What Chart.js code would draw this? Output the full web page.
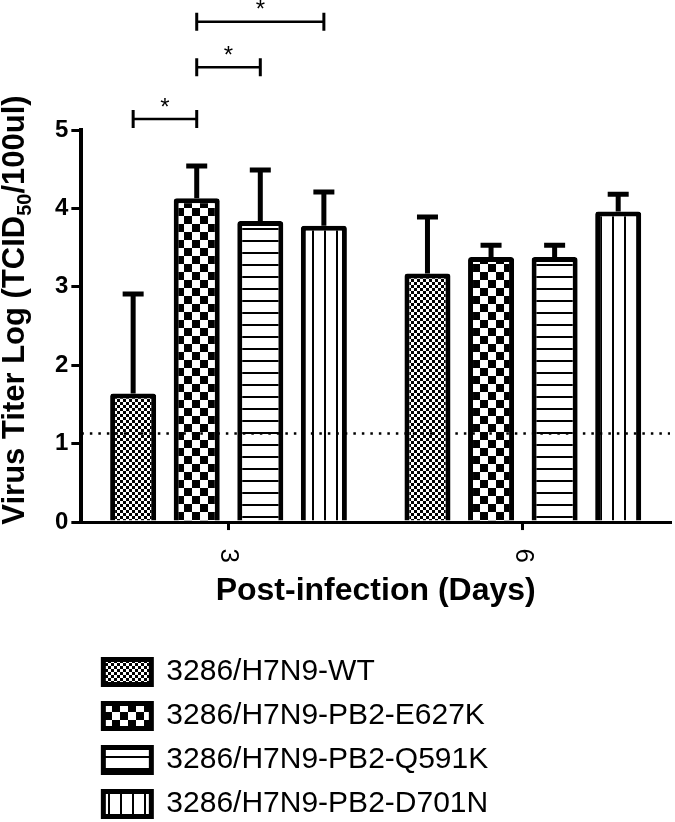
<!DOCTYPE html>
<html>
<head>
<meta charset="utf-8">
<script src="https://cdn.jsdelivr.net/npm/chart.js@4"></script>
<style>
  html, body { margin: 0; padding: 0; background: #fff; }
  #wrap { width: 675px; height: 822px; }
</style>
</head>
<body>
<div id="wrap"><canvas id="titerChart"></canvas></div>
<script>
// days post infection (x categories)
const days = ['3', '6'];
const strains = ['3286/H7N9-WT', '3286/H7N9-PB2-E627K', '3286/H7N9-PB2-Q591K', '3286/H7N9-PB2-D701N'];

// mean titer per day
const wtTiter = [1.64, 3.17];
const e627kTiter = [4.13, 3.38];
const q591kTiter = [3.84, 3.38];
const d701nTiter = [3.78, 3.96];

// SD (upper error bar only)
const wtSd = [1.27, 0.72];
const e627kSd = [0.41, 0.15];
const q591kSd = [0.65, 0.15];
const d701nSd = [0.43, 0.22];

const yTicks = [0, 1, 2, 3, 4, 5];
const detectionLimit = 1.13;

// significance on day 3 : pairs of strain index
const sigPairs = [[0, 1], [1, 2], [1, 3]];
const sigLabels = ['*', '*', '*'];

const FONT = "'Liberation Sans', Arial, Helvetica, sans-serif";
Chart.defaults.font.family = FONT;
Chart.defaults.color = '#000';

// fill patterns
function pattern(w, h, draw) {
    const c = document.createElement('canvas');
    c.width = w; c.height = h;
    const g = c.getContext('2d');
    g.fillStyle = '#fff';
    g.fillRect(0, 0, w, h);
    g.fillStyle = '#000';
    draw(g);
    return g.createPattern(c, 'repeat');
}
const fineCheck = pattern(6, 6, g => { g.fillRect(0, 0, 3, 3); g.fillRect(3, 3, 3, 3); });
const bigCheck = pattern(16, 16, g => { g.fillRect(0, 0, 8, 8); g.fillRect(8, 8, 8, 8); });
const hLines = pattern(12, 12, g => { g.fillRect(0, 0, 12, 2); });
const vLines = pattern(12, 12, g => { g.fillRect(0, 0, 2, 12); });

// dotted limit line
const limitLine = {
    id: 'limitLine',
    afterDatasetsDraw(chart) {
        const {ctx, chartArea, scales: {y}} = chart;
        const py = y.getPixelForValue(detectionLimit);
        ctx.save();
        ctx.strokeStyle = '#000';
        ctx.lineWidth = 2.5;
        ctx.setLineDash([2.5, 6]);
        ctx.beginPath();
        ctx.moveTo(chartArea.left, py);
        ctx.lineTo(chartArea.right, py);
        ctx.stroke();
        ctx.restore();
    }
};

// error bars (upward only)
const errorBars = {
    id: 'errorBars',
    afterDatasetsDraw(chart) {
        const {ctx, scales: {y}} = chart;
        ctx.save();
        ctx.strokeStyle = '#000';
        ctx.lineWidth = 5;
        chart.data.datasets.forEach((ds, i) => {
            chart.getDatasetMeta(i).data.forEach((bar, j) => {
                const top = y.getPixelForValue(ds.data[j] + ds.sd[j]);
                ctx.beginPath();
                ctx.moveTo(bar.x, bar.y);
                ctx.lineTo(bar.x, top);
                ctx.moveTo(bar.x - 10.5, top);
                ctx.lineTo(bar.x + 10.5, top);
                ctx.stroke();
            });
        });
        ctx.restore();
    }
};

// significance brackets above day 3
const brackets = {
    id: 'brackets',
    afterDraw(chart) {
        const {ctx, scales: {y}} = chart;
        const levels = [5.14, 5.8, 6.38];
        ctx.save();
        ctx.strokeStyle = '#000';
        ctx.fillStyle = '#000';
        ctx.font = '24px ' + FONT;
        ctx.textAlign = 'center';
        ctx.textBaseline = 'middle';
        sigPairs.forEach((p, k) => {
            const x1 = chart.getDatasetMeta(p[0]).data[0].x;
            const x2 = chart.getDatasetMeta(p[1]).data[0].x;
            const py = y.getPixelForValue(levels[k]);
            ctx.lineWidth = 2.5;
            ctx.beginPath();
            ctx.moveTo(x1, py); ctx.lineTo(x2, py);
            ctx.stroke();
            ctx.lineWidth = 3;
            ctx.beginPath();
            ctx.moveTo(x1, py - 9); ctx.lineTo(x1, py + 9);
            ctx.moveTo(x2, py - 9); ctx.lineTo(x2, py + 9);
            ctx.stroke();
            ctx.fillText(sigLabels[k], (x1 + x2) / 2, py - 11);
        });
        ctx.restore();
    }
};

// y title with subscript
const yTitle = {
    id: 'yTitle',
    afterDraw(chart) {
        const ctx = chart.ctx;
        const parts = [
            ['Virus Titer Log (TCID', 'bold 31px ' + FONT, 0],
            ['50', 'bold 20px ' + FONT, 7],
            ['/100ul)', 'bold 31px ' + FONT, 0]
        ];
        ctx.save();
        ctx.fillStyle = '#000';
        ctx.textBaseline = 'alphabetic';
        ctx.textAlign = 'left';
        let total = 0;
        parts.forEach(p => { ctx.font = p[1]; total += ctx.measureText(p[0]).width; });
        ctx.translate(24, 310);
        ctx.rotate(-Math.PI / 2);
        let x = -total / 2;
        parts.forEach(p => {
            ctx.font = p[1];
            ctx.fillText(p[0], x, p[2]);
            x += ctx.measureText(p[0]).width;
        });
        ctx.restore();
    }
};

// nudge the legend a little to the right
const legendShift = {
    id: 'legendShift',
    afterLayout(chart) {
        chart.legend.left += 8;
    }
};

const ctx = document.getElementById('titerChart').getContext('2d');
const titerChart = new Chart(ctx, {
    type: 'bar',
    data: {
        labels: days,
        datasets: [
            { label: strains[0], data: wtTiter, sd: wtSd, backgroundColor: fineCheck },
            { label: strains[1], data: e627kTiter, sd: e627kSd, backgroundColor: bigCheck },
            { label: strains[2], data: q591kTiter, sd: q591kSd, backgroundColor: hLines },
            { label: strains[3], data: d701nTiter, sd: d701nSd, backgroundColor: vLines }
        ].map(d => Object.assign(d, {
            borderColor: '#000',
            borderWidth: 5,
            borderRadius: 3,
            categoryPercentage: 0.864,
            barPercentage: 0.724
        }))
    },
    options: {
        responsive: true,
        maintainAspectRatio: false,
        animation: false,
        events: [],
        layout: { padding: { top: 130, left: 52, right: 5, bottom: -7 } },
        scales: {
            x: {
                grid: { display: true, offset: false, drawOnChartArea: false, drawTicks: true, tickLength: 8, lineWidth: 3, color: '#000' },
                border: { display: true, width: 3, color: '#000' },
                ticks: { minRotation: -90, maxRotation: -90, padding: 33, color: '#000', font: { size: 26 } },
                title: { display: true, text: 'Post-infection (Days)', color: '#000', font: { size: 32, weight: 'bold' }, padding: { top: -10, bottom: 33 } }
            },
            y: {
                min: yTicks[0],
                max: yTicks[yTicks.length - 1],
                grid: { drawOnChartArea: false, drawTicks: true, tickLength: 10, lineWidth: 3, color: '#000' },
                border: { display: true, width: 4, color: '#000' },
                ticks: { stepSize: 1, padding: 3, color: '#000', font: { size: 24, weight: 'bold' } }
            }
        },
        plugins: {
            tooltip: { enabled: false },
            legend: {
                position: 'bottom',
                align: 'start',
                fullSize: false,
                labels: { boxWidth: 48, boxHeight: 25, padding: 14, color: '#000', font: { size: 30 } }
            }
        }
    },
    plugins: [limitLine, errorBars, brackets, yTitle, legendShift]
});
</script>
</body>
</html>
